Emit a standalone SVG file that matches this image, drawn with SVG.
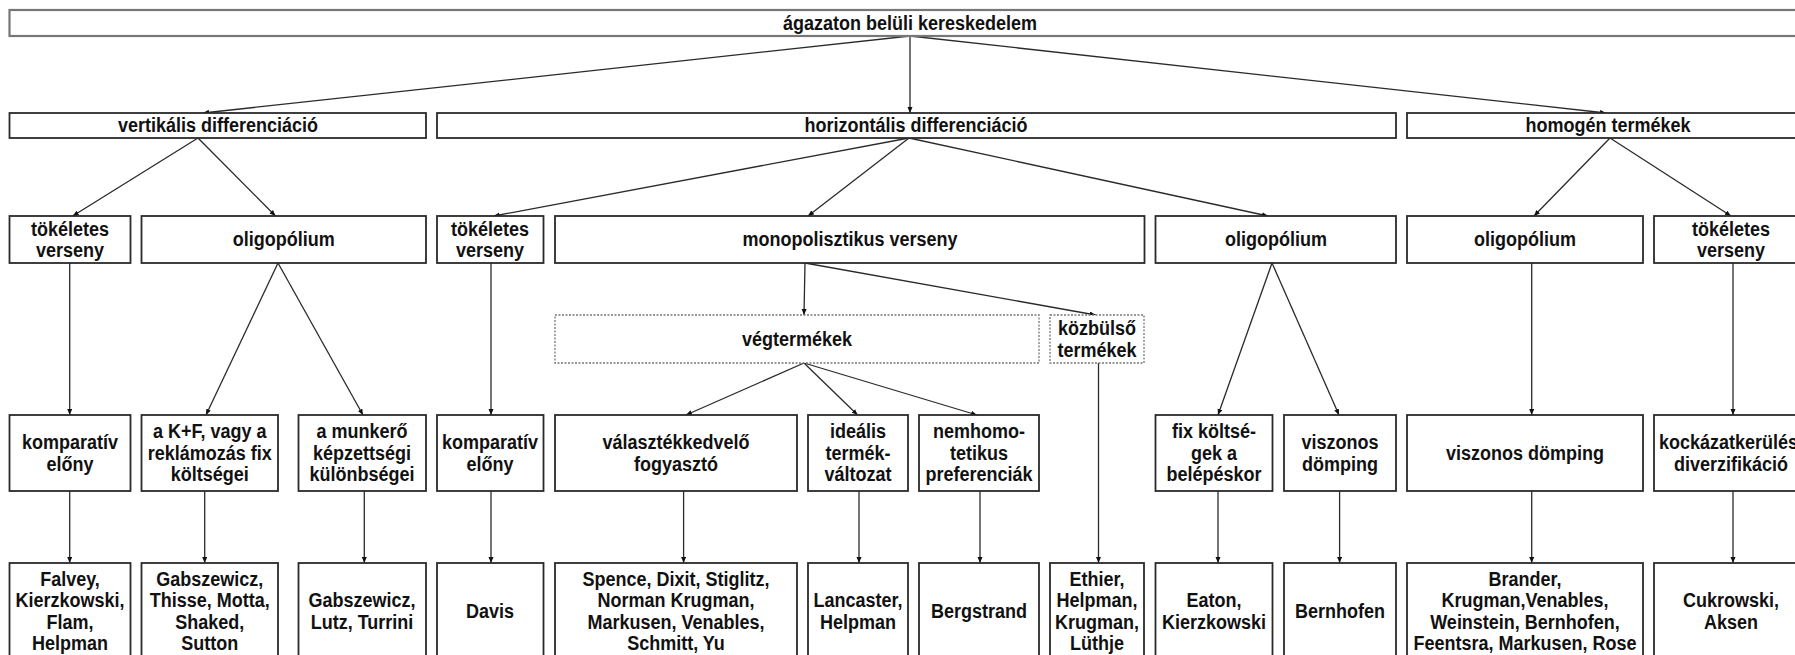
<svg xmlns="http://www.w3.org/2000/svg" width="1795" height="655" viewBox="0 0 1795 655">
<defs>
<style>
.b{fill:#fff;stroke:#2a2a2a;stroke-width:1.8}
.d{fill:#fff;stroke:#777;stroke-width:1.3;stroke-dasharray:2,1.5}
.t{fill:#fff;stroke:#777;stroke-width:2.2}
text{font-family:"Liberation Sans",Arial,sans-serif;font-weight:bold;font-size:18px;fill:#111;text-anchor:middle;transform-box:fill-box;transform-origin:center;transform:scaleY(1.08)}
.c line{stroke:#2a2a2a;stroke-width:1.3;marker-end:url(#ah)}
</style>
<marker id="ah" markerUnits="userSpaceOnUse" markerWidth="7" markerHeight="6" refX="6" refY="2.5" orient="auto">
<path d="M0,0 L6,2.5 L0,5 z" fill="#111"/>
</marker>
</defs>
<rect width="1795" height="655" fill="#fff"/>

<g class="c" id="connectors">
<line x1="910" y1="36" x2="203" y2="113"/>
<line x1="910" y1="36" x2="910" y2="113"/>
<line x1="910" y1="36" x2="1606" y2="113"/>
<line x1="198" y1="138" x2="72.7" y2="216"/>
<line x1="198" y1="138" x2="275.5" y2="216"/>
<line x1="909" y1="138" x2="493.7" y2="216"/>
<line x1="909" y1="138" x2="808" y2="216"/>
<line x1="909" y1="138" x2="1268" y2="216"/>
<line x1="1610" y1="138" x2="1534" y2="216"/>
<line x1="1610" y1="138" x2="1731" y2="216"/>
<line x1="69.7" y1="263" x2="69.7" y2="415"/>
<line x1="278" y1="263" x2="206" y2="415"/>
<line x1="278" y1="263" x2="363" y2="415"/>
<line x1="491" y1="263" x2="491" y2="415"/>
<line x1="805" y1="263" x2="804" y2="315"/>
<line x1="805" y1="263" x2="1095.7" y2="315"/>
<line x1="804" y1="363" x2="686" y2="415"/>
<line x1="804" y1="363" x2="857.6" y2="415"/>
<line x1="804" y1="363" x2="977" y2="415"/>
<line x1="1098.5" y1="363" x2="1098.5" y2="563"/>
<line x1="1272" y1="263" x2="1218" y2="415"/>
<line x1="1272" y1="263" x2="1339" y2="415"/>
<line x1="1531.7" y1="263" x2="1531.7" y2="415"/>
<line x1="1733" y1="263" x2="1733" y2="415"/>
<line x1="69.7" y1="491" x2="69.7" y2="563"/>
<line x1="204.7" y1="491" x2="204.7" y2="563"/>
<line x1="364.3" y1="491" x2="364.3" y2="563"/>
<line x1="491" y1="491" x2="491" y2="563"/>
<line x1="683.6" y1="491" x2="683.6" y2="563"/>
<line x1="859" y1="491" x2="859" y2="563"/>
<line x1="980" y1="491" x2="980" y2="563"/>
<line x1="1218" y1="491" x2="1218" y2="563"/>
<line x1="1339.6" y1="491" x2="1339.6" y2="563"/>
<line x1="1531.7" y1="491" x2="1531.7" y2="563"/>
<line x1="1733" y1="491" x2="1733" y2="563"/>
</g>

<g id="n-top"><rect class="t" x="9.5" y="10" width="1800" height="26"/><text x="910" y="29.5">ágazaton belüli kereskedelem</text></g>

<g id="n-vert"><rect class="b" x="9.5" y="113" width="416.5" height="25"/><text x="218" y="132">vertikális differenciáció</text></g>
<g id="n-horiz"><rect class="b" x="437" y="113" width="959" height="25"/><text x="916" y="132">horizontális differenciáció</text></g>
<g id="n-homog"><rect class="b" x="1407" y="113" width="402" height="25"/><text x="1608" y="132">homogén termékek</text></g>

<g id="n-tv1"><rect class="b" x="9.5" y="216" width="121" height="47"/><text x="70" y="235.3">tökéletes</text><text x="70" y="256.8">verseny</text></g>
<g id="n-oli1"><rect class="b" x="141.5" y="216" width="284.5" height="47"/><text x="283.8" y="246">oligopólium</text></g>
<g id="n-tv2"><rect class="b" x="437" y="216" width="106.5" height="47"/><text x="490" y="235.3">tökéletes</text><text x="490" y="256.8">verseny</text></g>
<g id="n-mono"><rect class="b" x="555" y="216" width="589.5" height="47"/><text x="850" y="246">monopolisztikus verseny</text></g>
<g id="n-oli2"><rect class="b" x="1155.5" y="216" width="240.5" height="47"/><text x="1276" y="246">oligopólium</text></g>
<g id="n-oli3"><rect class="b" x="1407" y="216" width="236" height="47"/><text x="1525" y="246">oligopólium</text></g>
<g id="n-tv3"><rect class="b" x="1654" y="216" width="155" height="47"/><text x="1731" y="235.3">tökéletes</text><text x="1731" y="256.8">verseny</text></g>

<g id="n-veg"><rect class="d" x="555" y="315" width="484" height="48"/><text x="797" y="345.5">végtermékek</text></g>
<g id="n-kozb"><rect class="d" x="1050" y="315" width="94" height="48"/><text x="1097" y="334.8">közbülső</text><text x="1097" y="356.3">termékek</text></g>

<g id="n-komp1"><rect class="b" x="9.5" y="415" width="121" height="76"/><text x="70" y="448.8">komparatív</text><text x="70" y="470.3">előny</text></g>
<g id="n-kf"><rect class="b" x="141.5" y="415" width="136.5" height="76"/><text x="209.8" y="438">a K+F, vagy a</text><text x="209.8" y="459.5">reklámozás fix</text><text x="209.8" y="481">költségei</text></g>
<g id="n-munk"><rect class="b" x="298.5" y="415" width="127.5" height="76"/><text x="362" y="438">a munkerő</text><text x="362" y="459.5">képzettségi</text><text x="362" y="481">különbségei</text></g>
<g id="n-komp2"><rect class="b" x="437" y="415" width="106.5" height="76"/><text x="490" y="448.8">komparatív</text><text x="490" y="470.3">előny</text></g>
<g id="n-val"><rect class="b" x="555" y="415" width="242" height="76"/><text x="676" y="448.8">választékkedvelő</text><text x="676" y="470.3">fogyasztó</text></g>
<g id="n-ideal"><rect class="b" x="808" y="415" width="100" height="76"/><text x="858" y="438">ideális</text><text x="858" y="459.5">termék-</text><text x="858" y="481">változat</text></g>
<g id="n-nemh"><rect class="b" x="919" y="415" width="120" height="76"/><text x="979" y="438">nemhomo-</text><text x="979" y="459.5">tetikus</text><text x="979" y="481">preferenciák</text></g>
<g id="n-fix"><rect class="b" x="1155.5" y="415" width="117" height="76"/><text x="1214" y="438">fix költsé-</text><text x="1214" y="459.5">gek a</text><text x="1214" y="481">belépéskor</text></g>
<g id="n-visz1"><rect class="b" x="1284" y="415" width="112" height="76"/><text x="1340" y="448.8">viszonos</text><text x="1340" y="470.3">dömping</text></g>
<g id="n-visz2"><rect class="b" x="1407" y="415" width="236" height="76"/><text x="1525" y="459.5">viszonos dömping</text></g>
<g id="n-kock"><rect class="b" x="1654" y="415" width="155" height="76"/><text x="1731" y="448.8">kockázatkerülés,</text><text x="1731" y="470.3">diverzifikáció</text></g>

<g id="n-falvey"><rect class="b" x="9.5" y="563" width="121" height="96"/><text x="70" y="585.3">Falvey,</text><text x="70" y="606.8">Kierzkowski,</text><text x="70" y="628.3">Flam,</text><text x="70" y="649.8">Helpman</text></g>
<g id="n-gab1"><rect class="b" x="141.5" y="563" width="136.5" height="96"/><text x="209.8" y="585.3">Gabszewicz,</text><text x="209.8" y="606.8">Thisse, Motta,</text><text x="209.8" y="628.3">Shaked,</text><text x="209.8" y="649.8">Sutton</text></g>
<g id="n-gab2"><rect class="b" x="298.5" y="563" width="127.5" height="96"/><text x="362" y="606.8">Gabszewicz,</text><text x="362" y="628.3">Lutz, Turrini</text></g>
<g id="n-davis"><rect class="b" x="437" y="563" width="106.5" height="96"/><text x="490" y="617.5">Davis</text></g>
<g id="n-spence"><rect class="b" x="555" y="563" width="242" height="96"/><text x="676" y="585.3">Spence, Dixit, Stiglitz,</text><text x="676" y="606.8">Norman Krugman,</text><text x="676" y="628.3">Markusen, Venables,</text><text x="676" y="649.8">Schmitt, Yu</text></g>
<g id="n-lanc"><rect class="b" x="808" y="563" width="100" height="96"/><text x="858" y="606.8">Lancaster,</text><text x="858" y="628.3">Helpman</text></g>
<g id="n-berg"><rect class="b" x="919" y="563" width="120" height="96"/><text x="979" y="617.5">Bergstrand</text></g>
<g id="n-ethier"><rect class="b" x="1050" y="563" width="94" height="96"/><text x="1097" y="585.3">Ethier,</text><text x="1097" y="606.8">Helpman,</text><text x="1097" y="628.3">Krugman,</text><text x="1097" y="649.8">Lüthje</text></g>
<g id="n-eaton"><rect class="b" x="1155.5" y="563" width="117" height="96"/><text x="1214" y="606.8">Eaton,</text><text x="1214" y="628.3">Kierzkowski</text></g>
<g id="n-bern"><rect class="b" x="1284" y="563" width="112" height="96"/><text x="1340" y="617.5">Bernhofen</text></g>
<g id="n-brander"><rect class="b" x="1407" y="563" width="236" height="96"/><text x="1525" y="585.3">Brander,</text><text x="1525" y="606.8">Krugman,Venables,</text><text x="1525" y="628.3">Weinstein, Bernhofen,</text><text x="1525" y="649.8">Feentsra, Markusen, Rose</text></g>
<g id="n-cuk"><rect class="b" x="1654" y="563" width="155" height="96"/><text x="1731" y="606.8">Cukrowski,</text><text x="1731" y="628.3">Aksen</text></g>
</svg>
